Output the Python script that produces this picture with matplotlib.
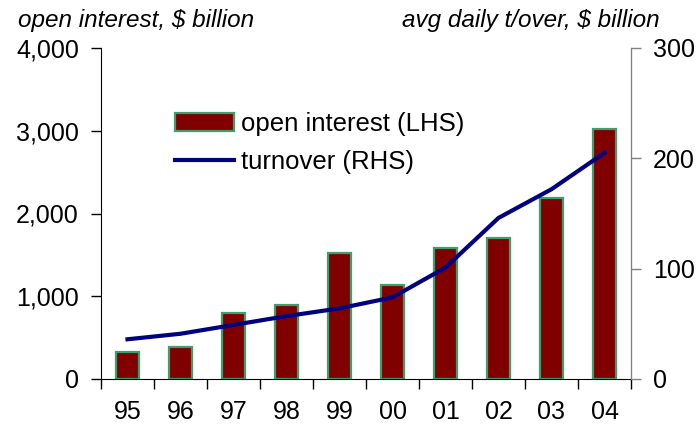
import numpy as np
import matplotlib.pyplot as plt

plt.rcParams['font.family'] = ['Liberation Sans', 'DejaVu Sans']

years = ['95', '96', '97', '98', '99', '00', '01', '02', '03', '04']
open_interest = [330, 390, 800, 900, 1520, 1140, 1580, 1700, 2190, 3020]
turnover = [36, 41, 49, 57, 64, 74, 101, 146, 172, 205]

x = np.arange(len(years))

fig = plt.figure(figsize=(6.99, 4.25), dpi=100)
ax = fig.add_axes([101 / 699, 1 - 379 / 425, 530 / 699, 331 / 425])
ax2 = ax.twinx()

bars = ax.bar(x, open_interest, width=0.45, color='#800000',
              edgecolor='#3f9e6e', linewidth=1.6, label='open interest (LHS)')
line, = ax2.plot(x, turnover, color='#000080', linewidth=3,
                 label='turnover (RHS)')

ax.set_xlim(-0.5, len(years) - 0.5)
ax.set_ylim(0, 4000)
ax2.set_ylim(0, 300)
ax.set_yticks([0, 1000, 2000, 3000, 4000])
ax.set_yticklabels(['0', '1,000', '2,000', '3,000', '4,000'])
ax2.set_yticks([0, 100, 200, 300])

# category boundaries carry the tick marks, labels sit in the middle
ax.set_xticks(np.arange(-0.5, len(years)), labels=[''] * (len(years) + 1))
ax.set_xticks(x, labels=years, minor=True)
ax.tick_params(axis='x', which='major', length=7, width=1, direction='out')
ax.tick_params(axis='x', which='minor', length=0, pad=15, labelsize=18)
ax.tick_params(axis='y', length=7, width=1, direction='out', pad=9, labelsize=18)
ax2.tick_params(axis='y', length=7, width=1, direction='out', pad=9,
                labelsize=18, color='#808080')

for a in (ax, ax2):
    a.spines['top'].set_visible(False)
ax2.spines['left'].set_visible(False)
ax2.spines['bottom'].set_visible(False)
ax2.spines['right'].set_color('#808080')

fig.text(18 / 699, 1 - 27 / 425, 'open interest, $ billion', fontsize=17.5,
         style='italic', ha='left', va='baseline')
fig.text(660 / 699, 1 - 27 / 425, 'avg daily t/over, $ billion', fontsize=17.5,
         style='italic', ha='right', va='baseline')

ax2.legend([bars, line], ['open interest (LHS)', 'turnover (RHS)'],
           loc='upper left', bbox_to_anchor=(175 / 699, 1 - 112 / 425),
           bbox_transform=fig.transFigure, frameon=False, fontsize=18.5,
           borderpad=0, borderaxespad=0, handlelength=2.3, handleheight=0.65,
           handletextpad=0.25, labelspacing=0.55)

plt.savefig('out.png', dpi=100)
